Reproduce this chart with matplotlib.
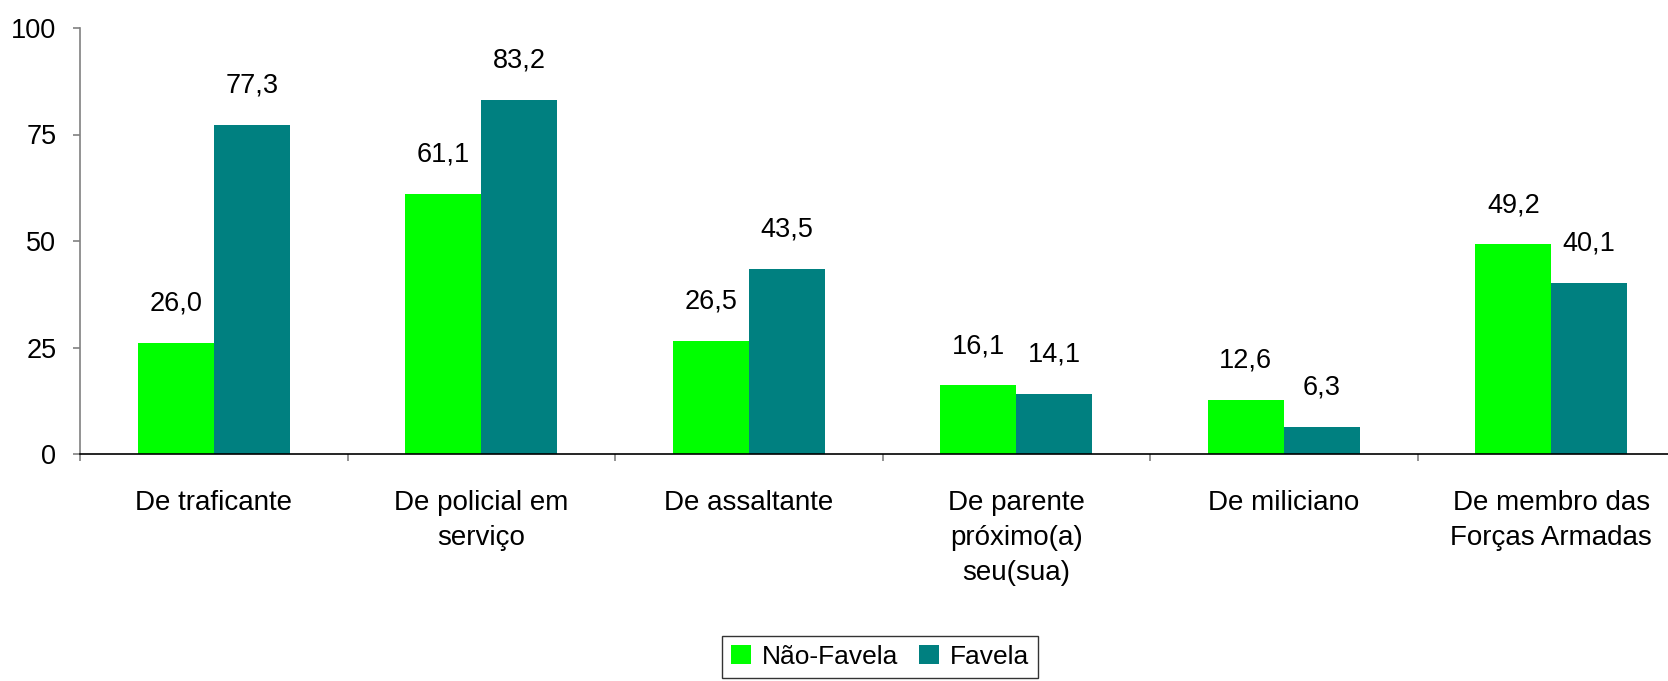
import matplotlib
matplotlib.use("Agg")
import matplotlib.pyplot as plt
import numpy as np

categories = ["De traficante", "De policial em\nserviço", "De assaltante",
              "De parente\npróximo(a)\nseu(sua)", "De miliciano",
              "De membro das\nForças Armadas"]
nao_favela = [26.0, 61.1, 26.5, 16.1, 12.6, 49.2]
favela = [77.3, 83.2, 43.5, 14.1, 6.3, 40.1]
series_names = ["Não-Favela", "Favela"]
y_ticks = [0, 25, 50, 75, 100]

plt.rcParams['font.family'] = ['Liberation Sans', 'DejaVu Sans']

W, H = 1668, 681
fig = plt.figure(figsize=(W / 100, H / 100), dpi=100)
ax = fig.add_axes([80 / W, (H - 454) / H, 6 * 267.5 / W, 426 / H])

x = np.arange(len(categories))
w = 0.284
b1 = ax.bar(x - w / 2, nao_favela, w, color="#00FF00", label=series_names[0])
b2 = ax.bar(x + w / 2, favela, w, color="#008080", label=series_names[1])

def fmt(v):
    return f"{v:.1f}".replace(".", ",")

for bars, vals in ((b1, nao_favela), (b2, favela)):
    for r, v in zip(bars, vals):
        ax.annotate(fmt(v), (r.get_x() + r.get_width() / 2, v),
                    xytext=(0, 19), textcoords="offset points",
                    ha="center", va="bottom", fontsize=19.5)

ax.set_xlim(-0.5, len(categories) - 0.5)
ax.set_ylim(0, 100)
ax.set_yticks(y_ticks)
ax.set_yticklabels([str(t) for t in y_ticks], fontsize=19.5)
ax.set_xticks(x)
ax.set_xticklabels(categories, fontsize=20, linespacing=1.45)
ax.set_xticks(np.arange(len(categories) + 1) - 0.5, minor=True)
ax.tick_params(axis="x", which="major", length=0, pad=26)
ax.tick_params(axis="x", which="minor", length=5, color="#808080", width=1.2)
ax.tick_params(axis="y", length=5, color="#808080", width=1.2, pad=12, direction="out")

for s in ("top", "right"):
    ax.spines[s].set_visible(False)
ax.spines["left"].set_color("#808080")
ax.spines["left"].set_linewidth(1.2)
ax.spines["bottom"].set_color("black")
ax.spines["bottom"].set_linewidth(1.2)

leg = ax.legend(loc="lower center", bbox_to_anchor=(880 / W, 3 / H),
                bbox_transform=fig.transFigure, ncol=2, fontsize=19,
                frameon=True, fancybox=False, handlelength=0.75,
                handleheight=0.75, handletextpad=0.4, columnspacing=0.8,
                borderpad=0.35, borderaxespad=0)
leg.get_frame().set_edgecolor("black")
leg.get_frame().set_linewidth(1.0)

fig.savefig("out.png", dpi=100)
